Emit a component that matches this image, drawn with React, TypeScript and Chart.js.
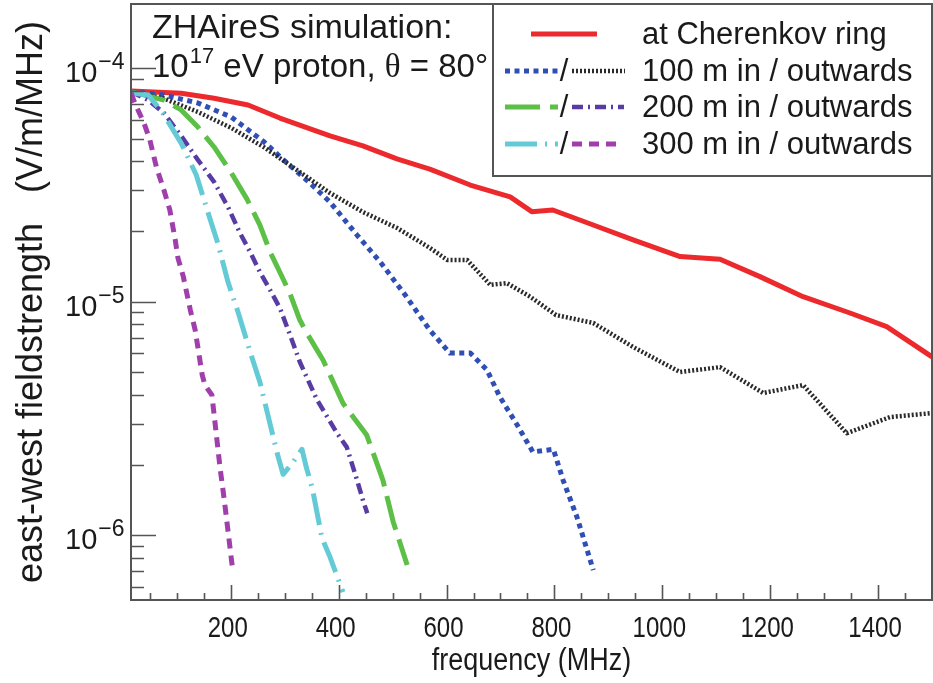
import React, { useEffect, useRef } from 'react';
import { Chart, registerables } from 'chart.js';

Chart.register(...registerables);

// ---------- data (frequency in MHz, field strength in V/m/MHz) ----------
const cherenkovFreq = [15, 108, 169, 232, 291, 384, 445, 508, 569, 644, 718, 758, 797, 872, 946, 1033, 1107, 1181, 1261, 1348, 1416, 1500];
const cherenkovField = [7.99e-5, 7.81e-5, 7.44e-5, 6.96e-5, 6.12e-5, 5.13e-5, 4.65e-5, 4.09e-5, 3.70e-5, 3.16e-5, 2.81e-5, 2.43e-5, 2.47e-5, 2.13e-5, 1.84e-5, 1.56e-5, 1.52e-5, 1.28e-5, 1.05e-5, 8.94e-6, 7.81e-6, 5.80e-6];

const in100Freq = [15, 76, 139, 201, 262, 304, 347, 384, 434, 477, 523, 569, 606, 644, 675, 699, 731, 760, 798, 816, 842, 872];
const in100Field = [7.94e-5, 7.68e-5, 7.10e-5, 6.18e-5, 4.83e-5, 3.93e-5, 3.22e-5, 2.67e-5, 1.93e-5, 1.48e-5, 1.07e-5, 7.55e-6, 6.02e-6, 6.02e-6, 5.09e-6, 3.90e-6, 2.96e-6, 2.27e-6, 2.33e-6, 1.72e-6, 1.19e-6, 7.07e-7];

const out100Freq = [15, 76, 139, 201, 262, 323, 384, 445, 508, 569, 601, 638, 681, 712, 755, 803, 872, 946, 1033, 1107, 1187, 1261, 1342, 1422, 1500];
const out100Field = [7.94e-5, 7.42e-5, 6.50e-5, 5.55e-5, 4.58e-5, 3.66e-5, 2.92e-5, 2.42e-5, 2.07e-5, 1.70e-5, 1.51e-5, 1.51e-5, 1.18e-5, 1.20e-5, 1.05e-5, 8.76e-6, 8.10e-6, 6.39e-6, 4.99e-6, 5.24e-6, 4.06e-6, 4.39e-6, 2.73e-6, 3.20e-6, 3.33e-6];

const in200Freq = [15, 76, 108, 139, 169, 201, 230, 254, 273, 297, 310, 328, 341, 371, 408, 452, 482, 501, 527];
const in200Field = [7.94e-5, 7.31e-5, 6.63e-5, 5.60e-5, 4.60e-5, 3.56e-5, 2.75e-5, 2.13e-5, 1.63e-5, 1.25e-5, 1.08e-5, 8.34e-6, 7.33e-6, 5.62e-6, 3.67e-6, 2.68e-6, 1.72e-6, 1.14e-6, 7.43e-7];

const out200Freq = [15, 47, 76, 108, 139, 169, 195, 217, 236, 254, 273, 291, 310, 328, 360, 397, 415, 434, 445, 453];
const out200Field = [7.94e-5, 7.31e-5, 6.43e-5, 5.13e-5, 4.05e-5, 3.26e-5, 2.54e-5, 1.97e-5, 1.63e-5, 1.34e-5, 1.12e-5, 9.39e-6, 7.19e-6, 5.51e-6, 3.79e-6, 2.73e-6, 2.38e-6, 1.72e-6, 1.41e-6, 1.24e-6];

const in300Freq = [15, 47, 65, 74, 108, 136, 158, 176, 195, 214, 236, 254, 286, 297, 314, 332, 340, 351, 369, 384, 408];
const in300Field = [7.84e-5, 7.68e-5, 6.83e-5, 6.43e-5, 4.78e-5, 3.49e-5, 2.40e-5, 1.78e-5, 1.21e-5, 8.94e-6, 6.08e-6, 4.52e-6, 2.24e-6, 1.82e-6, 2.03e-6, 2.33e-6, 1.95e-6, 1.59e-6, 9.70e-7, 8.04e-7, 5.69e-7];

const out300Freq = [15, 22, 39, 50, 62, 76, 87, 97, 102, 112, 125, 134, 147, 152, 165, 180, 188, 204];
const out300Field = [7.84e-5, 7.10e-5, 5.83e-5, 4.93e-5, 3.78e-5, 3.01e-5, 2.47e-5, 1.84e-5, 1.54e-5, 1.28e-5, 9.20e-6, 7.55e-6, 4.85e-6, 4.39e-6, 3.98e-6, 1.95e-6, 1.41e-6, 6.93e-7];

const xTickValues = [200, 400, 600, 800, 1000, 1200, 1400];
const xMinorStep = 50;
const yDecades = [-6, -5, -4];
const legendLabels = ['at Cherenkov ring', '100 m in / outwards', '200 m in / outwards', '300 m in / outwards'];
const annotationLine1 = 'ZHAireS simulation:';
const xTitle = 'frequency (MHz)';
const yTitle = 'east-west fieldstrength   (V/m/MHz)';

// ---------- styles ----------
const FONT = '"Liberation Sans", Arial, Helvetica, sans-serif';
const SERIF = '"Liberation Serif", "Times New Roman", serif';
const TEXT = '#1a1a1a';
const AXIS = '#555555';

const S = {
  cherenkov: { color: '#ec2a2e', width: 5, dash: [] as number[] },
  in100: { color: '#2f4fb4', width: 5, dash: [5, 4.5] },
  out100: { color: '#2a2a2a', width: 4.5, dash: [2, 2] },
  in200: { color: '#5cbf46', width: 5, dash: [35, 10] },
  out200: { color: '#583ca4', width: 4.5, dash: [11, 5, 2, 5] },
  in300: { color: '#64cbd6', width: 5, dash: [32, 8, 2, 8] },
  out300: { color: '#a03fac', width: 5, dash: [10, 7] },
};

function ds(label: string, fr: number[], vals: number[], st: { color: string; width: number; dash: number[] }) {
  return {
    label,
    data: fr.map((f, i) => ({ x: f, y: vals[i] })),
    borderColor: st.color,
    backgroundColor: st.color,
    borderWidth: st.width,
    borderDash: st.dash,
    borderCapStyle: 'butt' as const,
    borderJoinStyle: 'round' as const,
    pointRadius: 0,
    tension: 0,
    fill: false,
  };
}

function condensedText(ctx: CanvasRenderingContext2D, text: string, x: number, y: number, sx: number) {
  ctx.save();
  ctx.translate(x, y);
  ctx.scale(sx, 1);
  ctx.fillText(text, 0, 0);
  ctx.restore();
}

const decorations = {
  id: 'decorations',
  afterDraw(chart: any) {
    const { ctx, chartArea: ca, scales } = chart;
    const xs = scales.x;
    const ys = scales.y;
    ctx.save();

    // inward ticks
    ctx.strokeStyle = AXIS;
    ctx.lineWidth = 1.6;
    ctx.setLineDash([]);
    ctx.beginPath();
    for (let f = xMinorStep; f < xs.max; f += xMinorStep) {
      if (f <= xs.min) continue;
      const px = Math.round(xs.getPixelForValue(f)) + 0.5;
      const len = xTickValues.includes(f) ? 15 : 7;
      ctx.moveTo(px, ca.bottom);
      ctx.lineTo(px, ca.bottom - len);
    }
    for (let e = -7; e <= -3; e++) {
      for (let m = 1; m <= 9; m++) {
        const v = m * Math.pow(10, e);
        if (v < ys.min || v > ys.max) continue;
        const py = Math.round(ys.getPixelForValue(v)) + 0.5;
        const len = m === 1 ? 25 : 13;
        ctx.moveTo(ca.left, py);
        ctx.lineTo(ca.left + len, py);
      }
    }
    ctx.stroke();

    // frame
    ctx.lineWidth = 2;
    ctx.strokeRect(ca.left, ca.top, ca.right - ca.left, ca.bottom - ca.top);

    ctx.fillStyle = TEXT;

    // x tick labels (condensed face)
    ctx.textAlign = 'center';
    ctx.textBaseline = 'alphabetic';
    ctx.font = `30px ${FONT}`;
    for (const f of xTickValues) {
      const px = xs.getPixelForValue(f) - 3;
      condensedText(ctx, String(f), px, 637, 0.8);
    }
    // x title
    ctx.font = `31px ${FONT}`;
    condensedText(ctx, xTitle, (ca.left + ca.right) / 2, 670, 0.87);

    // y tick labels 10^n
    ctx.textAlign = 'left';
    for (const e of yDecades) {
      const py = ys.getPixelForValue(Math.pow(10, e));
      ctx.font = `29px ${FONT}`;
      ctx.fillText('10', 65, py + 14);
      const w = ctx.measureText('10').width;
      ctx.font = `23px ${FONT}`;
      ctx.fillText('\u2212' + Math.abs(e), 65 + w + 1, py + 1);
    }

    // annotation text
    const ax = 152;
    ctx.font = `34px ${FONT}`;
    ctx.fillText(annotationLine1, ax, 38);
    let cx = ax;
    ctx.font = `33px ${FONT}`;
    ctx.fillText('10', cx, 77);
    cx += ctx.measureText('10').width + 1;
    ctx.font = `22px ${FONT}`;
    ctx.fillText('17', cx, 63);
    cx += ctx.measureText('17').width;
    ctx.font = `33px ${FONT}`;
    ctx.fillText(' eV proton, ', cx, 77);
    cx += ctx.measureText(' eV proton, ').width;
    ctx.font = `33px ${SERIF}`;
    ctx.fillText('\u03b8', cx, 77);
    cx += ctx.measureText('\u03b8').width;
    ctx.font = `33px ${FONT}`;
    ctx.fillText(' = 80\u00b0', cx, 77);

    // legend box
    const lx0 = 493, ly0 = ca.top, lx1 = ca.right, ly1 = 176;
    ctx.fillStyle = '#ffffff';
    ctx.fillRect(lx0, ly0, lx1 - lx0, ly1 - ly0);
    ctx.strokeStyle = AXIS;
    ctx.lineWidth = 2;
    ctx.strokeRect(lx0, ly0, lx1 - lx0, ly1 - ly0);

    const rows = [34, 71, 107, 144];
    const seg = (st: any, x0: number, x1: number, y: number) => {
      ctx.save();
      ctx.strokeStyle = st.color;
      ctx.lineWidth = st.width;
      ctx.setLineDash(st.dash);
      ctx.lineCap = 'butt';
      ctx.beginPath();
      ctx.moveTo(x0, y);
      ctx.lineTo(x1, y);
      ctx.stroke();
      ctx.restore();
    };
    seg(S.cherenkov, 531, 597, rows[0]);
    seg(S.in100, 505, 558, rows[1]);
    seg(S.out100, 572, 625, rows[1]);
    seg(S.in200, 505, 558, rows[2]);
    seg(S.out200, 572, 624, rows[2]);
    seg(S.in300, 505, 558, rows[3]);
    seg(S.out300, 572, 618, rows[3]);

    ctx.fillStyle = TEXT;
    ctx.textBaseline = 'middle';
    ctx.font = `31px ${FONT}`;
    ctx.textAlign = 'center';
    for (let i = 1; i < 4; i++) ctx.fillText('/', 564, rows[i] + 1);
    ctx.textAlign = 'left';
    legendLabels.forEach((t, i) => ctx.fillText(t, 642, rows[i] + 1));

    ctx.restore();
  },
};

export default function App() {
  const ref = useRef<HTMLCanvasElement | null>(null);

  useEffect(() => {
    if (!ref.current) return;
    const chart = new Chart(ref.current, {
      type: 'line',
      data: {
        datasets: [
          ds('300 m outwards', out300Freq, out300Field, S.out300),
          ds('300 m in', in300Freq, in300Field, S.in300),
          ds('200 m outwards', out200Freq, out200Field, S.out200),
          ds('200 m in', in200Freq, in200Field, S.in200),
          ds('100 m outwards', out100Freq, out100Field, S.out100),
          ds('100 m in', in100Freq, in100Field, S.in100),
          ds('at Cherenkov ring', cherenkovFreq, cherenkovField, S.cherenkov),
        ],
      },
      options: {
        responsive: false,
        animation: false,
        devicePixelRatio: 1,
        layout: { padding: { left: 0, right: 1, top: 4, bottom: 0 } },
        plugins: { legend: { display: false }, tooltip: { enabled: false } },
        scales: {
          x: {
            type: 'linear',
            min: 15,
            max: 1500,
            grid: { display: false, drawTicks: false },
            border: { display: false },
            ticks: { display: false },
            title: { display: false },
            afterFit: (s: any) => { s.height = 83; },
          },
          y: {
            type: 'logarithmic',
            min: 5.265e-7,
            max: 1.886e-4,
            grid: { display: false, drawTicks: false },
            border: { display: false },
            ticks: { display: false },
            title: {
              display: true,
              text: yTitle,
              color: TEXT,
              font: { family: FONT, size: 36 },
              padding: { top: 10, bottom: 0 },
            },
            afterFit: (s: any) => { s.width = 131; },
          },
        },
      },
      plugins: [decorations],
    } as any);
    return () => chart.destroy();
  }, []);

  return (
    <div style={{ position: 'fixed', left: 0, top: 0, width: 933, height: 683, background: '#fff' }}>
      <canvas ref={ref} width={933} height={683} style={{ display: 'block' }} />
    </div>
  );
}
